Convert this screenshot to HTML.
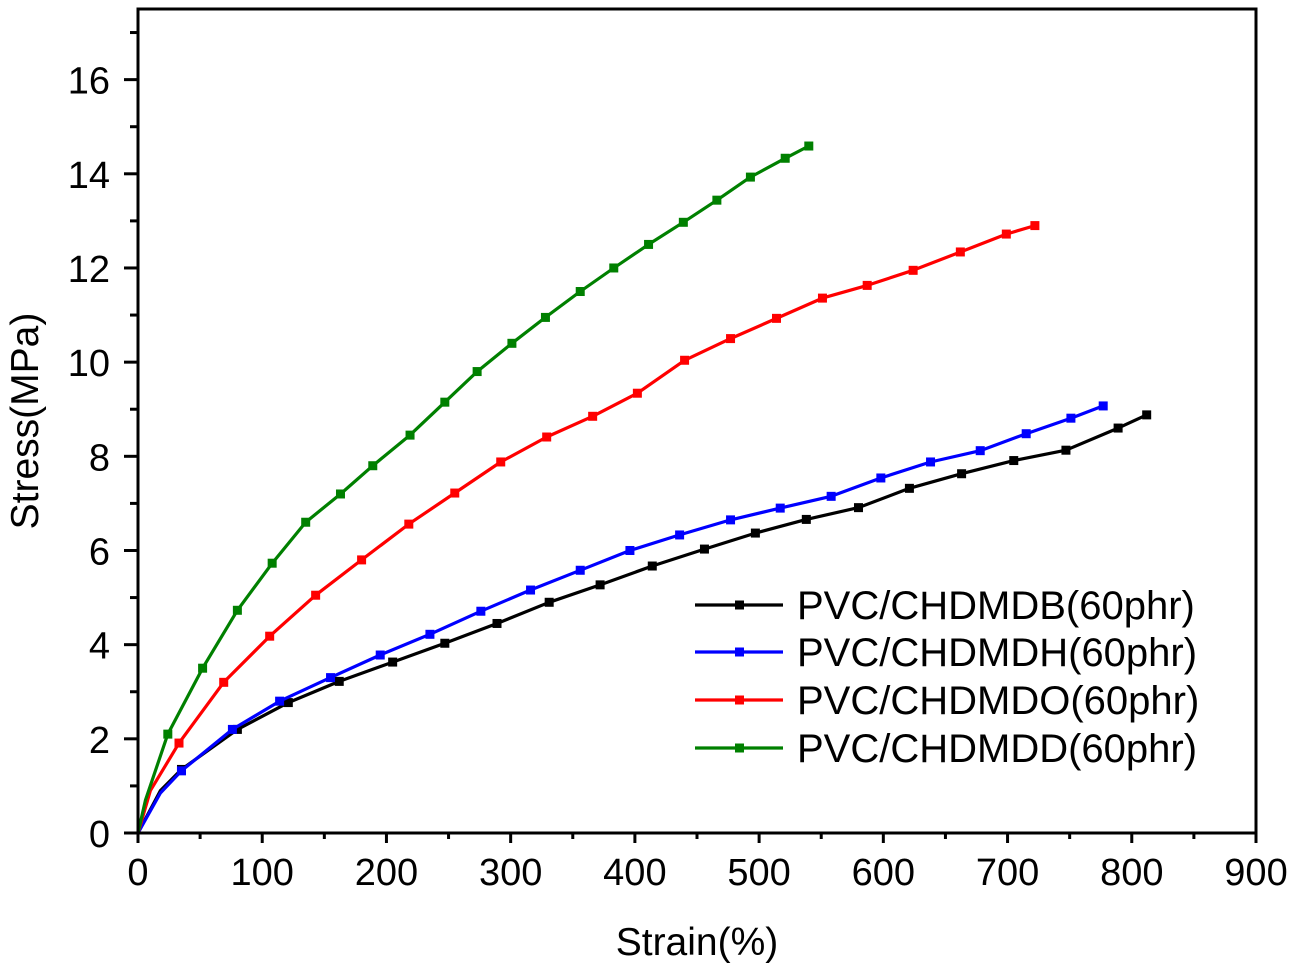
<!DOCTYPE html>
<html><head><meta charset="utf-8"><style>
html,body{margin:0;padding:0;background:#fff;}
svg{display:block;font-family:"Liberation Sans",Arial,sans-serif;}
</style></head><body>
<svg id="chart" width="1291" height="970" viewBox="0 0 1291 970">
<rect x="0" y="0" width="1291" height="970" fill="#fff"/>
<g id="series"></g>
<g id="axes"></g>
<g id="legend"></g>
<text x="697" y="955" font-size="39" text-anchor="middle">Strain(%)</text>
<text transform="translate(38,421) rotate(-90)" font-size="39" text-anchor="middle">Stress(MPa)</text>
</svg>
<script>
const xTicks=[0,100,200,300,400,500,600,700,800,900];
const yTicks=[0,2,4,6,8,10,12,14,16];
const seriesNames=["PVC/CHDMDB(60phr)","PVC/CHDMDH(60phr)","PVC/CHDMDO(60phr)","PVC/CHDMDD(60phr)"];
const seriesColors=["#000000","#0000ff","#ff0000","#008000"];
const blackX=[0,18,35,80,121,162,205,247,289,331,372,414,456,497,538,580,621,663,705,747,789,812];
const blackY=[0,0.9,1.35,2.2,2.77,3.22,3.63,4.03,4.45,4.9,5.27,5.67,6.03,6.37,6.66,6.91,7.32,7.63,7.91,8.13,8.6,8.88];
const blueX=[0,18,35,76,114,155,195,235,276,316,356,396,436,477,517,558,598,638,678,715,751,777];
const blueY=[0,0.85,1.32,2.2,2.8,3.3,3.78,4.22,4.71,5.16,5.58,6.0,6.33,6.65,6.9,7.15,7.54,7.88,8.12,8.48,8.81,9.07];
const redX=[0,10,33,69,106,143,180,218,255,292,329,366,402,440,477,514,551,587,624,662,699,722];
const redY=[0,0.9,1.91,3.2,4.18,5.05,5.8,6.56,7.22,7.88,8.41,8.85,9.34,10.04,10.5,10.93,11.36,11.63,11.95,12.34,12.72,12.9];
const greenX=[0,6,24,52,80,108,135,163,189,219,247,273,301,328,356,383,411,439,466,493,521,540];
const greenY=[0,0.7,2.1,3.5,4.73,5.73,6.6,7.2,7.8,8.45,9.15,9.8,10.4,10.95,11.5,12.0,12.5,12.97,13.44,13.93,14.33,14.59];
const allX=[blackX,blueX,redX,greenX];
const allY=[blackY,blueY,redY,greenY];

const L=138,R=1256,T=9,B=833;
const sx=v=>L+(v/900)*(R-L);
const sy=v=>B-(v/17.5)*(B-T);
const NS="http://www.w3.org/2000/svg";
function mk(tag,attrs,parent){const e=document.createElementNS(NS,tag);for(const k in attrs)e.setAttribute(k,attrs[k]);parent.appendChild(e);return e;}

const ser=document.getElementById('series');
for(let s=0;s<4;s++){
  const xs=allX[s],ys=allY[s];
  let d='';
  for(let i=0;i<xs.length;i++)d+=(i?'L':'M')+sx(xs[i]).toFixed(1)+','+sy(ys[i]).toFixed(1);
  const p=mk('path',{d:d,fill:'none',stroke:seriesColors[s],'stroke-width':3.2,'stroke-linejoin':'round'},ser);
  
  
  for(let i=2;i<xs.length;i++){
    const m=mk('rect',{x:sx(xs[i])-4.5,y:sy(ys[i])-4.5,width:9,height:9,fill:seriesColors[s]},ser);
    
    
  }
}

const ax=document.getElementById('axes');
const frame=mk('rect',{x:L,y:T,width:R-L,height:B-T,fill:'none',stroke:'#000','stroke-width':3},ax);


for(let i=0;i<xTicks.length;i++){
  const x=sx(xTicks[i]);
  mk('line',{x1:x,y1:B,x2:x,y2:B+10,stroke:'#000','stroke-width':3},ax);
  if(i<xTicks.length-1){const xm=sx(xTicks[i]+50);mk('line',{x1:xm,y1:B,x2:xm,y2:B+6,stroke:'#000','stroke-width':3},ax);}
  const t=mk('text',{x:x,y:B+52,'font-size':38,'text-anchor':'middle'},ax);
  t.textContent=xTicks[i];
  
  
}
for(let i=0;i<yTicks.length;i++){
  const y=sy(yTicks[i]);
  mk('line',{x1:L-14,y1:y,x2:L,y2:y,stroke:'#000','stroke-width':3},ax);
  const ym=sy(yTicks[i]+1);mk('line',{x1:L-8,y1:ym,x2:L,y2:ym,stroke:'#000','stroke-width':3},ax);
  const t=mk('text',{x:L-28,y:y+14,'font-size':38,'text-anchor':'end'},ax);
  t.textContent=yTicks[i];
  
  
}

const lg=document.getElementById('legend');
const rows=[605,652,700,748];
for(let s=0;s<4;s++){
  const g=mk('g',{},lg);
  
  
  mk('line',{x1:695,y1:rows[s],x2:783,y2:rows[s],stroke:seriesColors[s],'stroke-width':3.2},g);
  mk('rect',{x:735,y:rows[s]-4.5,width:9,height:9,fill:seriesColors[s]},g);
  const t=mk('text',{x:797,y:rows[s]+14,'font-size':40},g);
  t.textContent=seriesNames[s];
}
</script>
</body></html>
